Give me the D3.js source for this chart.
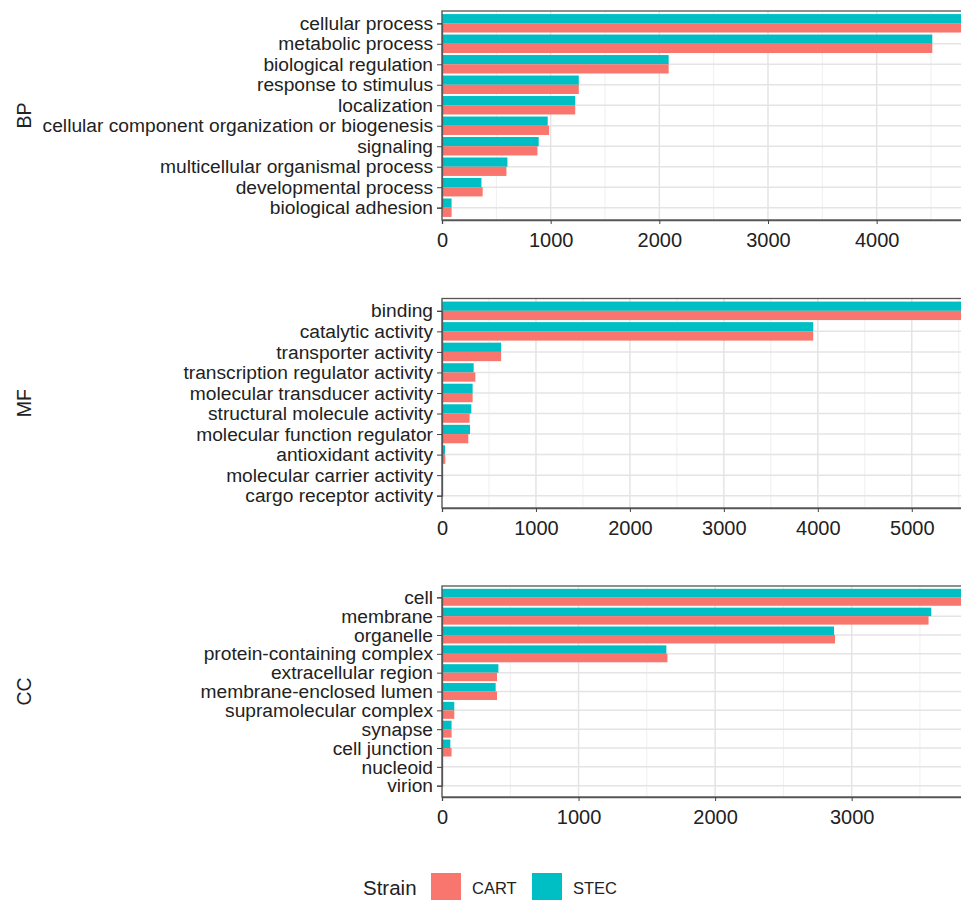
<!DOCTYPE html>
<html>
<head>
<meta charset="utf-8">
<script src="https://cdn.jsdelivr.net/npm/d3@7"></script>
<style>
  html, body { margin: 0; padding: 0; background: #fff; overflow: hidden; }
  svg { display: block; font-family: "Liberation Sans", Arial, sans-serif; }
</style>
</head>
<body>
<svg id="chart" width="961" height="900"></svg>
<script>
// GO term counts per ontology, two strains
const strains = ["CART", "STEC"];
const strainColors = ["#F8766D", "#00BFC4"];

const bpTerms = ["cellular process", "metabolic process", "biological regulation", "response to stimulus",
  "localization", "cellular component organization or biogenesis", "signaling",
  "multicellular organismal process", "developmental process", "biological adhesion"];
const bpCART = [4920, 4512, 2086, 1259, 1226, 986, 878, 593, 374, 88];
const bpSTEC = [4920, 4512, 2086, 1259, 1226, 973, 890, 602, 363, 88];

const mfTerms = ["binding", "catalytic activity", "transporter activity", "transcription regulator activity",
  "molecular transducer activity", "structural molecule activity", "molecular function regulator",
  "antioxidant activity", "molecular carrier activity", "cargo receptor activity"];
const mfCART = [5690, 3951, 629, 355, 326, 294, 280, 35, 0, 0];
const mfSTEC = [5690, 3951, 629, 337, 326, 312, 298, 32, 0, 0];

const ccTerms = ["cell", "membrane", "organelle", "protein-containing complex", "extracellular region",
  "membrane-enclosed lumen", "supramolecular complex", "synapse", "cell junction", "nucleoid", "virion"];
const ccCART = [3915, 3563, 2878, 1651, 403, 403, 90, 70, 70, 0, 0];
const ccSTEC = [3915, 3583, 2871, 1643, 413, 393, 90, 70, 61, 0, 0];

const bpTicks = [0, 1000, 2000, 3000, 4000];
const mfTicks = [0, 1000, 2000, 3000, 4000, 5000];
const ccTicks = [0, 1000, 2000, 3000];

const svg = d3.select("#chart");
const textColor = "#222";
const panelLeft = 442;
const panelWidth = 556;

function drawPanel(title, terms, cart, stec, ticks, top, bottom) {
  const maxV = d3.max(cart.concat(stec));
  const x = d3.scaleLinear().domain([0, maxV * 1.04]).range([panelLeft, panelLeft + panelWidth]);
  const n = terms.length;
  // discrete axis with 0.6 unit padding at each end
  const unit = (bottom - top) / (n - 1 + 1.2);
  const y = d3.scalePoint().domain(terms).range([top + 0.6 * unit, bottom - 0.6 * unit]);
  const g = svg.append("g");

  // grid: minor then major
  const minor = d3.range(500, maxV * 1.04, 1000);
  g.selectAll(".minor").data(minor).join("line")
    .attr("x1", d => x(d)).attr("x2", d => x(d))
    .attr("y1", top).attr("y2", bottom)
    .attr("stroke", "#efefef").attr("stroke-width", 1);
  g.selectAll(".major").data(ticks).join("line")
    .attr("x1", d => x(d)).attr("x2", d => x(d))
    .attr("y1", top).attr("y2", bottom)
    .attr("stroke", "#e4e4e4").attr("stroke-width", 1.5);
  g.selectAll(".hgrid").data(terms).join("line")
    .attr("x1", panelLeft).attr("x2", panelLeft + panelWidth)
    .attr("y1", d => y(d)).attr("y2", d => y(d))
    .attr("stroke", "#e4e4e4").attr("stroke-width", 1.5);

  // bars: STEC above, CART below within each category
  const bh = unit * 0.45;
  const rows = terms.map((t, i) => ({ t, cart: cart[i], stec: stec[i] }));
  g.selectAll(".stec").data(rows).join("rect")
    .attr("x", x(0)).attr("y", d => y(d.t) - bh)
    .attr("width", d => x(d.stec) - x(0)).attr("height", bh)
    .attr("fill", strainColors[1]);
  g.selectAll(".cart").data(rows).join("rect")
    .attr("x", x(0)).attr("y", d => y(d.t))
    .attr("width", d => x(d.cart) - x(0)).attr("height", bh)
    .attr("fill", strainColors[0]);

  // panel border
  g.append("rect")
    .attr("x", panelLeft).attr("y", top)
    .attr("width", panelWidth).attr("height", bottom - top)
    .attr("fill", "none").attr("stroke", "#555").attr("stroke-width", 1.3);

  // y axis
  const ya = g.append("g").attr("transform", `translate(${panelLeft},0)`)
    .call(d3.axisLeft(y).tickSize(5).tickPadding(4));
  ya.select(".domain").attr("stroke", "#555").attr("stroke-width", 1.3);
  ya.selectAll(".tick line").attr("stroke", "#444");
  ya.selectAll("text").attr("font-size", 19.2).attr("fill", textColor)
    .attr("font-family", "Liberation Sans, Arial, sans-serif");

  // x axis
  const xa = g.append("g").attr("transform", `translate(0,${bottom})`)
    .call(d3.axisBottom(x).tickValues(ticks).tickFormat(d3.format("d")).tickSize(4).tickPadding(9));
  xa.select(".domain").attr("stroke", "#555").attr("stroke-width", 1.3);
  xa.selectAll(".tick line").attr("stroke", "#444");
  xa.selectAll("text").attr("font-size", 20).attr("fill", textColor)
    .attr("font-family", "Liberation Sans, Arial, sans-serif");

  // axis title
  g.append("text")
    .attr("transform", `translate(31,${(top + bottom) / 2}) rotate(-90)`)
    .attr("text-anchor", "middle")
    .attr("font-size", 19.5).attr("fill", textColor)
    .text(title);
}

drawPanel("BP", bpTerms, bpCART, bpSTEC, bpTicks, 11, 220);
drawPanel("MF", mfTerms, mfCART, mfSTEC, mfTicks, 298.5, 508);
drawPanel("CC", ccTerms, ccCART, ccSTEC, ccTicks, 586, 797);

// legend
const lg = svg.append("g");
lg.append("text").attr("x", 363).attr("y", 895)
  .attr("font-size", 20.5).attr("fill", textColor).text("Strain");
const keyX = [431, 532];
strains.forEach((s, i) => {
  lg.append("rect").attr("x", keyX[i]).attr("y", 873)
    .attr("width", 30).attr("height", 30).attr("fill", strainColors[i]);
  lg.append("text").attr("x", keyX[i] + 41).attr("y", 894)
    .attr("font-size", 16.5).attr("fill", textColor).text(s);
});
</script>
</body>
</html>
